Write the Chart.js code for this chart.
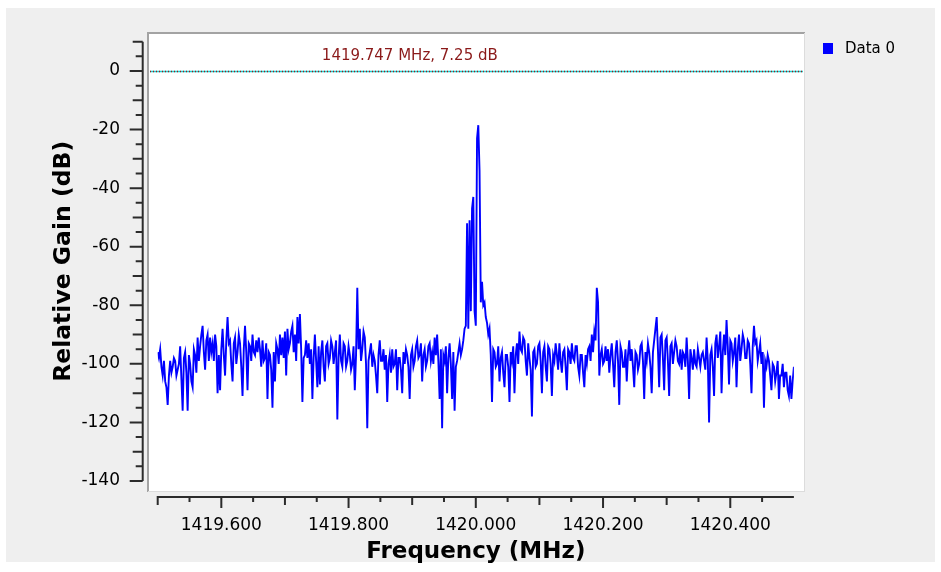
<!DOCTYPE html>
<html><head><meta charset="utf-8">
<script src="https://cdn.jsdelivr.net/npm/chart.js@4.4.1/dist/chart.umd.min.js"></script>
<style>html,body{margin:0;padding:0;background:#fff;}canvas{display:block;}</style>
</head><body>
<canvas id="c" width="941" height="572"></canvas>
<script>
// ---- data ----
const seriesName = 'Data 0';
const freqStart = 1419.5;   // MHz, first bin
const freqStop = 1420.5;    // MHz, last bin
const gains = [
-96,-98,-95,-101,-104,-99,-106,-108,-114,-104,-99,-103,-101,-98,-99,-104,-102,-100,-94,-105,
-116,-98,-96,-103,-116,-97,-100,-106,-108,-95,-97,-103,-91,-99,-94,-90,-87,-96,-102,-92,
-90,-99,-91,-96,-93,-99,-90,-94,-110,-97,-109,-95,-88,-97,-104,-92,-84,-93,-92,-100,
-106,-93,-91,-100,-96,-90,-93,-101,-111,-95,-87,-96,-109,-93,-94,-99,-90,-96,-97,-92,
-96,-91,-95,-101,-92,-99,-98,-93,-112,-96,-97,-102,-115,-96,-106,-93,-95,-100,-90,-97,
-91,-98,-89,-104,-88,-95,-93,-89,-87,-96,-90,-99,-84,-93,-83,-95,-113,-98,-97,-92,
-98,-93,-100,-95,-112,-98,-90,-99,-108,-94,-107,-96,-92,-101,-106,-94,-93,-100,-98,-92,
-94,-100,-96,-92,-119,-98,-90,-99,-101,-93,-94,-101,-99,-94,-97,-102,-100,-94,-109,-97,
-74,-95,-88,-99,-95,-89,-91,-100,-122,-99,-96,-93,-101,-97,-99,-104,-110,-97,-92,-99,
-99,-95,-102,-97,-113,-100,-97,-103,-95,-101,-100,-95,-109,-98,-98,-102,-110,-96,-100,-95,
-97,-101,-112,-97,-95,-101,-99,-94,-92,-98,-97,-93,-106,-97,-95,-101,-99,-94,-93,-99,
-96,-100,-91,-97,-90,-99,-112,-95,-122,-97,-99,-94,-110,-98,-93,-100,-112,-96,-116,-101,
-99,-96,-93,-97,-95,-92,-88,-87,-52,-88,-51,-82,-47,-43,-82,-87,-23,-18.5,-34,-79,
-72,-80,-79,-84,-86,-90,-88,-97,-113,-95,-96,-101,-100,-94,-106,-98,-96,-103,-108,-97,
-97,-101,-113,-96,-99,-94,-110,-97,-93,-100,-89,-95,-96,-91,-92,-99,-104,-93,-98,-102,
-118,-96,-95,-101,-100,-94,-93,-99,-110,-96,-94,-101,-106,-94,-95,-100,-111,-97,-99,-93,
-97,-102,-93,-99,-103,-96,-95,-101,-109,-95,-96,-100,-93,-98,-99,-94,-94,-101,-104,-97,
-97,-103,-108,-97,-100,-95,-94,-99,-90,-96,-89,-92,-74,-79,-104,-97,-95,-100,-99,-94,
-99,-95,-103,-97,-93,-100,-108,-96,-92,-99,-114,-94,-96,-101,-101,-95,-106,-97,-92,-99,
-95,-101,-108,-96,-97,-102,-100,-94,-93,-99,-112,-96,-99,-93,-96,-101,-110,-96,-92,-88,
-84,-95,-108,-91,-90,-98,-109,-92,-91,-99,-111,-94,-93,-100,-96,-92,-94,-99,-100,-95,
-102,-96,-97,-101,-91,-99,-112,-95,-98,-102,-95,-100,-101,-95,-98,-101,-97,-96,-99,-102,
-91,-99,-120,-97,-95,-101,-111,-93,-90,-98,-94,-89,-110,-96,-90,-97,-85,-94,-107,-92,
-93,-99,-96,-91,-108,-95,-90,-99,-95,-90,-92,-98,-98,-92,-93,-100,-110,-94,-87,-93,
-92,-99,-96,-93,-100,-96,-115,-99,-101,-97,-99,-104,-109,-100,-101,-106,-103,-99,-112,-104,
-104,-100,-108,-103,-103,-109,-111,-104,-112,-106,-101
];
const xTickValues = [1419.6, 1419.8, 1420.0, 1420.2, 1420.4];
const xTickLabels = ['1419.600', '1419.800', '1420.000', '1420.200', '1420.400'];
const yTickValues = [-140, -120, -100, -80, -60, -40, -20, 0];
const yTickLabels = ['-140', '-120', '-100', '-80', '-60', '-40', '-20', '0'];
const yMin = -140, yMax = 10;
const markerFreq = 1419.747;
const markerLevel = 0;
const markerLabel = '1419.747 MHz, 7.25 dB';
const xTitle = 'Frequency (MHz)';
const yTitle = 'Relative Gain (dB)';

const points = gains.map((g, i) => ({
  x: freqStart + i * (freqStop - freqStart) / (gains.length - 1),
  y: g
}));

const FONT = 'DejaVu Sans';

const decor = {
  id: 'decor',
  beforeDraw(chart) {
    const c = chart.ctx;
    c.save();
    c.fillStyle = '#ffffff'; c.fillRect(0, 0, 941, 572);
    c.fillStyle = '#efefef'; c.fillRect(6, 8, 929, 554);
    c.fillStyle = '#ffffff'; c.fillRect(148, 33, 657, 459);
    c.fillStyle = '#a3a3a3';
    c.fillRect(147, 32, 658, 2);
    c.fillRect(147, 32, 2, 460);
    c.fillStyle = '#dcdcdc';
    c.fillRect(804, 33, 1, 459);
    c.fillRect(148, 491, 657, 1);
    c.restore();
  },
  afterDraw(chart) {
    const c = chart.ctx;
    const xs = chart.scales.x, ys = chart.scales.y;
    const area = chart.chartArea;
    c.save();
    // y axis
    const ax = area.left - 15;
    c.strokeStyle = '#2b2b2b';
    c.lineWidth = 2;
    c.beginPath();
    c.moveTo(ax, ys.getPixelForValue(yMin));
    c.lineTo(ax, ys.getPixelForValue(yMax));
    for (let v = yMin; v <= yMax; v += 5) {
      const len = (v % 20 === 0) ? 13 : (v % 10 === 0 ? 10 : 7);
      const py = ys.getPixelForValue(v);
      c.moveTo(ax, py); c.lineTo(ax - len, py);
    }
    c.stroke();
    // x axis
    const ay = area.bottom + 16;
    c.beginPath();
    c.moveTo(xs.getPixelForValue(freqStart) - 1, ay);
    c.lineTo(xs.getPixelForValue(freqStop), ay);
    for (let k = 0; k < 20; k++) {
      const f = freqStart + k * 0.05;
      const len = (k % 4 === 2) ? 11 : (k % 2 === 0 ? 8 : 5);
      const px = xs.getPixelForValue(f);
      c.moveTo(px, ay); c.lineTo(px, ay + len);
    }
    c.stroke();
    // marker line (dotted cyan / dark red)
    const my = Math.round(ys.getPixelForValue(markerLevel)) + 0.5;
    c.lineWidth = 1.5;
    c.strokeStyle = '#20d0d0';
    c.beginPath(); c.moveTo(150, my); c.lineTo(803, my); c.stroke();
    c.setLineDash([1, 2]);
    c.strokeStyle = '#a01818';
    c.beginPath(); c.moveTo(150, my); c.lineTo(803, my); c.stroke();
    c.setLineDash([]);
    // marker label
    c.fillStyle = '#8b1a1a';
    c.font = '15px "' + FONT + '"';
    c.textAlign = 'left'; c.textBaseline = 'middle';
    c.fillText(markerLabel, xs.getPixelForValue(markerFreq) + 7, 56);
    // legend
    c.fillStyle = '#0000ff';
    c.fillRect(823, 43, 10, 11);
    c.fillStyle = '#000000';
    c.fillText(chart.data.datasets[0].label, 845, 49);
    c.restore();
  }
};

new Chart(document.getElementById('c').getContext('2d'), {
  type: 'line',
  data: {
    datasets: [{
      label: seriesName,
      data: points,
      borderColor: '#0000ff',
      borderWidth: 1.9,
      pointRadius: 0,
      tension: 0,
      fill: false
    }]
  },
  options: {
    responsive: false,
    animation: false,
    layout: { padding: { left: 0, top: 41.7, right: 147.1, bottom: 0 } },
    plugins: { legend: { display: false }, tooltip: { enabled: false } },
    scales: {
      x: {
        type: 'linear', min: freqStart, max: freqStop,
        grid: { display: false, drawTicks: true, tickLength: 30 },
        border: { display: false },
        afterFit: s => { s.height = 91; },
        afterBuildTicks: s => { s.ticks = xTickValues.map(v => ({ value: v })); },
        ticks: {
          autoSkip: false, maxRotation: 0, padding: 4, color: '#000',
          font: { family: FONT, size: 17 },
          callback: (v) => { const i = xTickValues.findIndex(t => Math.abs(t - v) < 1e-6); return i >= 0 ? xTickLabels[i] : ''; }
        },
        title: {
          display: true, text: xTitle, color: '#000',
          font: { family: FONT, size: 23, weight: 'bold' },
          padding: { top: 0, bottom: 6 }
        }
      },
      y: {
        type: 'linear', min: yMin, max: yMax,
        grid: { display: false, drawTicks: true, tickLength: 33.7 },
        border: { display: false },
        afterFit: s => { s.width = 157.7; },
        afterBuildTicks: s => { s.ticks = yTickValues.map(v => ({ value: v })); },
        ticks: {
          autoSkip: false, padding: 4, color: '#000',
          font: { family: FONT, size: 17 },
          callback: (v) => { const i = yTickValues.findIndex(t => Math.abs(t - v) < 1e-6); return i >= 0 ? yTickLabels[i] : ''; }
        },
        title: {
          display: true, text: yTitle, color: '#000',
          font: { family: FONT, size: 23.5, weight: 'bold' },
          padding: { top: 50, bottom: 0 }
        }
      }
    }
  },
  plugins: [decor]
});
</script>
</body></html>
